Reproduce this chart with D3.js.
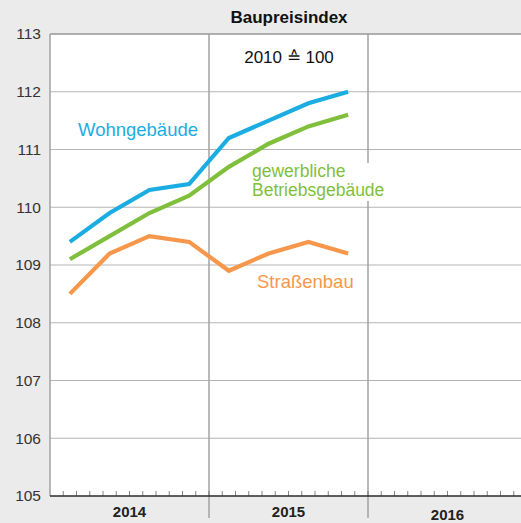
<!DOCTYPE html>
<html>
<head>
<meta charset="utf-8">
<script src="https://cdn.jsdelivr.net/npm/d3@7"></script>
<style>
  html, body { margin: 0; padding: 0; background: #ebebec; }
  svg { display: block; font-family: "Liberation Sans", Arial, Helvetica, sans-serif; }
</style>
</head>
<body>
<script>
// Quarterly construction price index, 2010 = 100
const quarters = ["2014 Q1", "2014 Q2", "2014 Q3", "2014 Q4", "2015 Q1", "2015 Q2", "2015 Q3", "2015 Q4"];
const wohngebaeude = [109.4, 109.9, 110.3, 110.4, 111.2, 111.5, 111.8, 112.0];
const gewerbliche = [109.1, 109.5, 109.9, 110.2, 110.7, 111.1, 111.4, 111.6];
const strassenbau = [108.5, 109.2, 109.5, 109.4, 108.9, 109.2, 109.4, 109.2];
const years = ["2014", "2015", "2016"];
const yTicks = [105, 106, 107, 108, 109, 110, 111, 112, 113];

const W = 521, H = 523;
const svg = d3.select("body").append("svg").attr("width", W).attr("height", H);

// month-based horizontal scale: 0 = January 2014
const x = d3.scaleLinear().domain([0, 36]).range([50, 527]);
const y = d3.scaleLinear().domain([105, 113]).range([496, 34]);

// plot background
svg.append("rect").attr("x", x(0)).attr("y", y(113))
  .attr("width", W - x(0)).attr("height", y(105) - y(113)).attr("fill", "#ffffff");

// horizontal gridlines
svg.append("g").selectAll("line").data(yTicks.filter(v => v > 105)).join("line")
  .attr("x1", x(0)).attr("x2", W)
  .attr("y1", d => y(d)).attr("y2", d => y(d))
  .attr("stroke", "#b4b4b6").attr("stroke-width", 1.2);

// year separators, extending below the axis
svg.append("g").selectAll("line").data([12, 24]).join("line")
  .attr("x1", d => x(d)).attr("x2", d => x(d))
  .attr("y1", y(113)).attr("y2", 518)
  .attr("stroke", "#a2a2a4").attr("stroke-width", 1.5);

// left axis line
svg.append("line").attr("x1", x(0)).attr("x2", x(0)).attr("y1", y(113)).attr("y2", y(105))
  .attr("stroke", "#a2a2a4").attr("stroke-width", 1.5);

// y axis labels
const yAxis = d3.axisLeft(y).tickValues(yTicks).tickSize(0).tickPadding(9);
const gy = svg.append("g").attr("transform", `translate(${x(0)},0)`).call(yAxis);
gy.select(".domain").remove();
gy.selectAll("text").attr("font-size", 15.5).attr("fill", "#333333")
  .attr("font-family", "Liberation Sans, Arial, sans-serif");

// monthly minor ticks along the bottom axis
const monthTicks = d3.range(1, 36);
svg.append("g").selectAll("line").data(monthTicks).join("line")
  .attr("x1", d => x(d)).attr("x2", d => x(d))
  .attr("y1", y(105) - 5).attr("y2", y(105))
  .attr("stroke", "#666").attr("stroke-width", 0.8);

// bottom axis line
svg.append("line").attr("x1", x(0)).attr("x2", W).attr("y1", y(105)).attr("y2", y(105))
  .attr("stroke", "#2a2a2a").attr("stroke-width", 1.6);

// year labels
svg.append("g").selectAll("text").data(years).join("text")
  .attr("x", (d, i) => x(i * 12 + 6))
  .attr("y", (d, i) => i === 2 ? 520 : 517)
  .attr("text-anchor", "middle")
  .attr("font-size", 15).attr("font-weight", "bold").attr("fill", "#222")
  .text(d => d);

// top border of the plot
svg.append("line").attr("x1", x(0)).attr("x2", W).attr("y1", y(113)).attr("y2", y(113))
  .attr("stroke", "#a2a2a4").attr("stroke-width", 1.5);

// series lines
const series = [
  { name: "Wohngebäude", values: wohngebaeude, color: "#1badE2" },
  { name: "gewerbliche Betriebsgebäude", values: gewerbliche, color: "#80bf3c" },
  { name: "Straßenbau", values: strassenbau, color: "#f7974b" }
];
const line = d3.line().x((d, i) => x(i * 3 + 1.5)).y(d => y(d));

// label backing for the two-line label
svg.append("rect").attr("x", 250).attr("y", 163).attr("width", 150).attr("height", 38).attr("fill", "#ffffff");

series.slice().reverse().forEach(s => {
  svg.append("path").datum(s.values)
    .attr("d", line)
    .attr("fill", "none")
    .attr("stroke", s.color)
    .attr("stroke-width", 4.2)
    .attr("stroke-linejoin", "miter");
});

// series labels
svg.append("text").attr("x", 78).attr("y", 136).attr("font-size", 18.5)
  .attr("fill", "#1badE2").text("Wohngebäude");
const g2 = svg.append("text").attr("font-size", 17.5).attr("fill", "#80bf3c");
g2.append("tspan").attr("x", 252).attr("y", 177).text("gewerbliche");
g2.append("tspan").attr("x", 252).attr("y", 196).text("Betriebsgebäude");
svg.append("text").attr("x", 257).attr("y", 288).attr("font-size", 18.5)
  .attr("fill", "#f7974b").text("Straßenbau");

// titles
svg.append("text").attr("x", 289).attr("y", 23).attr("text-anchor", "middle")
  .attr("font-size", 17).attr("font-weight", "bold").attr("fill", "#111").text("Baupreisindex");
svg.append("text").attr("x", 289).attr("y", 63).attr("text-anchor", "middle")
  .attr("font-size", 17).attr("fill", "#111").text("2010 ≙ 100");
</script>
</body>
</html>
